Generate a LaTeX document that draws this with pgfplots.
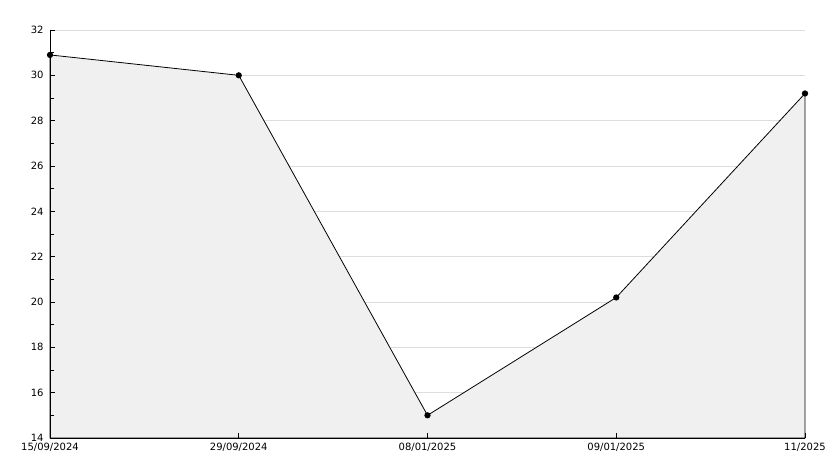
\documentclass[border=0pt]{standalone}
\usepackage{pgfplots}
\pgfplotsset{compat=1.18}
\usepackage{fontspec}
\setmainfont{DejaVu Sans}
\definecolor{areafill}{HTML}{F0F0F0}
\definecolor{gridc}{HTML}{DDDDDD}
\begin{document}
\begin{tikzpicture}
\begin{axis}[
  set layers=axis on top,
  axis on top,
  scale only axis,
  width=755bp, height=408bp,
  xmin=0, xmax=4, ymin=14, ymax=32,
  axis x line*=bottom, axis y line*=left,
  axis line style={black, line width=0.9pt},
  xtick={0,1,2,3,4},
  xticklabels={15/09/2024,29/09/2024,08/01/2025,09/01/2025,11/2025},
  ytick={14,16,...,32},
  minor y tick num=1,
  ymajorgrids,
  major grid style={gridc, line width=0.8pt, /pgfplots/on layer=axis background},
  xtick align=inside, ytick align=inside,
  major tick length=5bp,
  minor tick length=4bp,
  every tick/.style={black, line width=0.9pt},
  ticklabel style={font=\fontsize{10bp}{12bp}\selectfont},
  xticklabel style={yshift=-2bp},
  yticklabel style={xshift=-3bp},
  /pgf/number format/assume math mode=true,
  clip=false,
]
\addplot[fill=areafill, draw=black, line width=0.8pt, mark=*, mark size=2.7pt, mark options={fill=black}] coordinates {
  (0,30.9) (1,30.0) (2,15.0) (3,20.2) (4,29.2)
} \closedcycle;
\end{axis}
\path ([xshift=-50bp,yshift=-30bp]current axis.south west) rectangle ([xshift=29bp,yshift=30bp]current axis.north east);
\end{tikzpicture}
\end{document}
